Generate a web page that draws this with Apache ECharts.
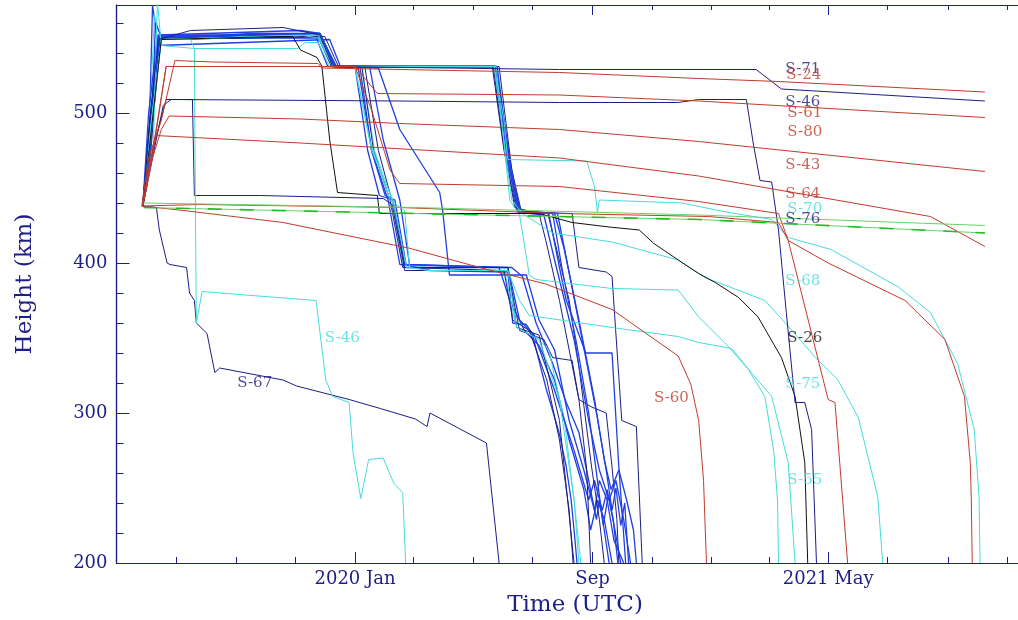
<!DOCTYPE html>
<html>
<head>
<meta charset="utf-8">
<script src="https://cdn.jsdelivr.net/npm/echarts@6/dist/echarts.min.js"></script>
<style>
  html, body { margin: 0; padding: 0; background: #ffffff; }
  #chart { width: 1018px; height: 620px; }
</style>
</head>
<body>
<div id="chart"></div>
<script>
// Starlink v0.9 (launched 2019 May 24) orbital height histories.
// Each track is [days after launch, height in km].
const LAUNCH_DATE = '2019-05-24';

const X_MIN = '2019-05-01';
const X_MAX = '2021-11-12';
const X_MINOR_TICKS = ['2019-05-01', '2019-07-01', '2019-09-01', '2019-11-01',
  '2020-01-01', '2020-03-01', '2020-05-01', '2020-07-01', '2020-09-01', '2020-11-01',
  '2021-01-01', '2021-03-01', '2021-05-01', '2021-07-01', '2021-09-01', '2021-11-01'];
const X_MAJOR_TICKS = ['2020-01-01', '2020-09-01', '2021-05-01'];
const X_TICK_LABELS = ['2020 Jan', 'Sep', '2021 May'];

const Y_MIN = 200;
const Y_MAX = 572;
const Y_MINOR_TICKS = [200, 220, 240, 260, 280, 300, 320, 340, 360, 380, 400, 420, 440, 460, 480, 500, 520, 540, 560];
const Y_MAJOR_TICKS = [200, 300, 400, 500];

// --- satellites still up at the end of the record, and other singles ---
const S24 = [[3,438],[10,470],[23,495],[37,535],[77,534],[184,533],[188,530],[432,527],[575,523],[657,521],[869,514]];
const S71 = [[4,438],[12,500],[20,549],[53,555],[148,557],[186,552],[199,531],[432,529],[634,529],[660,516],[869,508]];
const S46_NAVY = [[4,438],[14,470],[25,505],[33,509],[268,508],[432,507],[554,507],[575,509],[624,509],[631,480],[638,455],[650,454],[657,422],[665,367],[674,307],[684,307],[691,289],[696,200]];
const S61 = [[4,438],[16,480],[28,531],[222,531],[245,513],[432,512],[575,508],[869,497]];
const S80 = [[4,438],[14,470],[23,489],[31,498],[166,496],[268,493],[432,489],[575,481],[869,461]];
const S64 = [[4,438],[10,462],[17,485],[166,480],[432,470],[575,458],[813,431],[869,411]];
const S43 = [[4,438],[15,478],[28,531],[222,531],[239,502],[258,462],[268,453],[432,451],[575,441],[657,433],[667,415],[708,309],[715,307],[728,200]];
const S60 = [[3,438],[46,435],[148,427],[277,410],[350,397],[418,386],[486,369],[554,338],[567,319],[575,295],[580,255],[583,200]];
const S76 = [[3,438],[63,439],[268,437],[432,433],[585,431],[657,427],[667,415],[708,400],[787,375],[828,349],[848,311],[854,267],[855,243],[856,200]];
const GREEN_A = [[5,440],[284,437],[575,432],[869,425]];
const GREEN_B = [[5,437],[284,433],[575,429],[869,420]];

const S46_CYAN = [[4,438],[12,490],[23,549],[53,549],[57,543],[58,442],[59,360],[65,381],[103,379],[182,375],[192,322],[199,311],[216,307],[220,273],[228,243],[236,269],[251,270],[256,262],[262,253],[271,247],[274,200]];
const C2 = [[4,438],[15,480],[19,575],[23,545],[57,543],[163,543],[171,547],[184,547],[196,531],[222,531],[237,482],[258,442],[273,435],[278,397],[299,395],[379,395],[388,357],[411,349],[432,309],[447,242],[454,200]];
const S70 = [[4,438],[13,495],[23,549],[166,552],[184,550],[199,531],[365,531],[375,495],[379,469],[460,468],[468,451],[471,434],[473,442],[558,440],[603,434],[650,429],[667,417],[711,409],[780,384],[813,367],[841,333],[858,289],[863,244],[864,200]];
const S68 = [[4,438],[11,480],[23,549],[186,552],[199,531],[365,531],[383,442],[394,433],[425,420],[486,414],[554,402],[582,390],[595,387],[643,375],[664,360],[695,337],[718,322],[739,297],[759,244],[764,200]];
const S55 = [[4,438],[14,500],[23,549],[184,552],[199,531],[367,531],[381,442],[391,432],[401,392],[408,389],[486,383],[554,382],[575,364],[606,344],[626,329],[643,311],[652,275],[656,242],[657,200]];
const S75 = [[4,438],[12,485],[23,549],[184,552],[199,531],[222,531],[239,475],[261,442],[275,397],[299,395],[379,395],[391,375],[401,365],[486,357],[554,351],[575,347],[609,343],[629,327],[650,311],[667,267],[674,200]];
const S26 = [[4,438],[13,490],[23,549],[145,551],[158,551],[166,542],[183,537],[188,531],[196,482],[204,447],[245,445],[247,433],[411,433],[445,427],[483,424],[514,422],[529,413],[554,402],[575,393],[592,387],[616,377],[636,364],[660,337],[674,311],[684,267],[687,200]];
const S67 = [[3,438],[18,437],[21,422],[29,400],[32,399],[49,397],[52,380],[57,375],[59,360],[70,353],[78,327],[83,330],[148,322],[162,318],[216,309],[248,303],[284,296],[296,291],[299,300],[357,280],[370,200]];
const N5 = [[4,438],[16,480],[28,509],[55,509],[57,445],[125,445],[251,443],[260,439],[273,397],[299,397],[379,397],[388,357],[411,352],[432,295],[447,200]];

// --- deorbited 2020: lowered through 395 km ---
const A1 = [[4,438],[10,470],[14,572],[19,549],[115,553],[184,553],[199,531],[222,531],[235,475],[247,445],[261,442],[273,399],[299,395],[379,394],[384,360],[398,359],[404,353],[418,317],[432,286],[439,264],[444,242],[448,215],[450,200]];
const A2 = [[4,438],[11,490],[20,552],[166,555],[186,553],[202,531],[227,531],[239,475],[253,445],[263,442],[275,397],[299,397],[383,397],[394,391],[408,360],[425,333],[439,307],[452,287],[462,255],[470,229],[473,242],[478,222],[483,200]];
const A3 = [[4,438],[9,455],[14,500],[23,551],[186,551],[199,531],[232,531],[246,475],[261,439],[273,395],[379,395],[391,355],[416,349],[425,337],[445,335],[452,309],[465,304],[480,300],[486,264],[491,229],[493,200]];
const A4 = [[4,438],[9,470],[18,545],[196,549],[207,531],[246,530],[268,489],[309,447],[312,435],[319,392],[398,392],[411,362],[427,342],[442,295],[457,262],[468,235],[473,255],[481,242],[488,215],[498,200]];
const A5 = [[4,438],[12,500],[23,552],[181,552],[194,531],[237,531],[251,482],[268,442],[278,399],[370,397],[381,375],[396,355],[411,345],[427,322],[442,282],[457,249],[464,222],[471,242],[478,229],[486,200]];
const A6 = [[4,438],[10,480],[16,565],[23,549],[186,551],[199,531],[229,531],[242,475],[260,442],[271,399],[299,397],[375,397],[386,362],[401,355],[421,342],[437,295],[447,242],[452,200]];
const A7 = [[4,438],[13,505],[23,550],[184,551],[198,531],[225,531],[239,475],[256,442],[268,399],[379,397],[391,362],[406,352],[427,315],[447,275],[462,242],[468,255],[476,235],[481,249],[489,222],[495,200]];
const A8 = [[4,438],[8,450],[15,510],[23,549],[184,551],[199,531],[229,531],[241,475],[258,442],[271,397],[375,395],[384,362],[401,355],[419,322],[432,282],[442,235],[446,200]];

// --- deorbited 2020: held at 530 km until May ---
const B1 = [[4,438],[11,495],[23,550],[184,552],[199,531],[363,531],[375,475],[388,435],[420,433],[425,420],[442,375],[452,331],[465,264],[473,229],[478,200]];
const B2 = [[4,438],[9,470],[20,549],[186,553],[202,531],[367,531],[381,469],[391,435],[421,433],[432,397],[439,375],[459,340],[486,340],[493,264],[500,200]];
const B3 = [[4,438],[12,480],[23,551],[191,551],[205,531],[370,531],[383,462],[393,434],[445,433],[452,397],[480,394],[486,391],[496,295],[511,291],[517,200]];
const B4 = [[4,438],[10,500],[19,550],[188,550],[203,531],[365,531],[377,475],[389,434],[416,432],[427,402],[447,349],[462,295],[473,262],[483,242],[490,255],[498,229],[505,200]];
const B5 = [[4,438],[13,480],[21,549],[184,551],[198,531],[364,531],[374,482],[386,437],[411,433],[418,415],[432,375],[452,309],[460,262],[464,200]];
const B6 = [[4,438],[12,470],[17,560],[23,551],[186,553],[200,531],[366,531],[380,469],[390,435],[427,433],[437,409],[452,362],[468,309],[478,269],[485,249],[493,262],[501,242],[508,222],[511,200]];
const B7 = [[4,438],[11,475],[22,550],[185,552],[200,531],[368,531],[380,470],[392,434],[430,433],[440,400],[455,350],[470,300],[480,262],[486,235],[490,250],[495,225],[499,240],[503,200]];
const B8 = [[4,438],[10,465],[21,551],[187,552],[201,531],[366,531],[378,470],[390,435],[425,433],[435,395],[450,345],[462,300],[472,250],[477,225],[482,245],[487,230],[492,200]];

// Track labels: text, day after launch, height (km)
const LABEL_TEXT = ['S-71', 'S-24', 'S-46', 'S-61', 'S-80', 'S-43', 'S-64', 'S-70', 'S-76', 'S-68', 'S-26', 'S-75', 'S-55', 'S-46', 'S-67', 'S-60'];
const LABEL_DAY  = [664, 665, 664, 666, 666, 664, 664, 666, 664, 664, 666, 664, 666, 191, 101, 529];
const LABEL_KM   = [529, 525, 507, 500, 487, 465, 446, 436, 429, 388, 350, 319, 255, 350, 320, 310];
const LABEL_TONE = ['navy', 'red', 'navy', 'red', 'red', 'red', 'red', 'cyan', 'navy', 'cyan', 'black', 'cyan', 'cyan', 'cyan', 'navy', 'red'];

const COLORS = {
  navy: '#1d1d84',
  blue: '#1f3fe4',
  cyan: '#45dcdc',
  red: '#c23b2c',
  black: '#111111',
  green: '#66d466',
  greenDash: '#1fbf1f',
  axis: '#1e1e88'
};

const FONT = 'DejaVu Serif';
const DAY_MS = 86400000;
const toTime = s => Date.parse(s + 'T00:00:00Z');
const launchT = toTime(LAUNCH_DATE);
const toPoints = track => track.map(([d, h]) => [launchT + d * DAY_MS, h]);

// draw order: bundle first, singles afterwards
const TRACKS = [
  [A1, 'blue'], [A2, 'blue'], [A3, 'navy'], [A4, 'blue'], [A5, 'blue'], [A6, 'cyan'], [A7, 'blue'], [A8, 'navy'],
  [B1, 'navy'], [B2, 'blue'], [B3, 'navy'], [B4, 'blue'], [B5, 'navy'], [B6, 'blue'], [B7, 'blue'], [B8, 'blue'],
  [N5, 'navy'], [S67, 'navy'], [S46_CYAN, 'cyan'], [C2, 'cyan'],
  [S70, 'cyan'], [S68, 'cyan'], [S55, 'cyan'], [S75, 'cyan'], [S26, 'black'],
  [S71, 'navy'], [S46_NAVY, 'navy'],
  [S24, 'red'], [S61, 'red'], [S80, 'red'], [S64, 'red'], [S43, 'red'], [S60, 'red'], [S76, 'red'],
  [GREEN_A, 'green'], [GREEN_B, 'green']
];

const series = TRACKS.map(([track, tone]) => ({
  type: 'line',
  data: toPoints(track),
  showSymbol: false,
  symbol: 'none',
  silent: true,
  lineStyle: { color: COLORS[tone], width: tone === 'blue' ? 1.3 : 1 },
  z: 2
}));

// dashed overlay on the lower green track
series.push({
  type: 'line',
  data: toPoints(GREEN_B),
  showSymbol: false,
  symbol: 'none',
  silent: true,
  lineStyle: { color: COLORS.greenDash, width: 1.6, type: [14, 18] },
  z: 3
});

series.push({
  type: 'scatter',
  silent: true,
  symbolSize: 0,
  z: 5,
  data: LABEL_TEXT.map((t, i) => ({
    value: [launchT + LABEL_DAY[i] * DAY_MS, LABEL_KM[i]],
    label: {
      show: true,
      formatter: t,
      position: 'right',
      distance: 0,
      color: COLORS[LABEL_TONE[i]],
      fontFamily: FONT,
      fontSize: 15
    }
  }))
});

const xMinor = X_MINOR_TICKS.map(toTime);
const xMajor = X_MAJOR_TICKS.map(toTime);

// time runs along a value axis in epoch milliseconds so ticks can sit on month starts
const baseX = (position, tickLen, ticks, withLabels) => ({
  type: 'value',
  position: position,
  min: toTime(X_MIN),
  max: toTime(X_MAX),
  axisLine: { show: true, onZero: false, lineStyle: { color: COLORS.axis, width: 1.2 } },
  axisTick: { show: true, inside: true, length: tickLen, customValues: ticks, lineStyle: { color: COLORS.axis, width: 1 } },
  axisLabel: withLabels ? {
    show: true,
    customValues: xMajor,
    margin: 7,
    color: COLORS.axis,
    fontFamily: FONT,
    fontSize: 18,
    formatter: v => {
      const i = xMajor.indexOf(v);
      return i >= 0 ? X_TICK_LABELS[i] : '';
    }
  } : { show: false },
  splitLine: { show: false }
});

const baseY = (tickLen, ticks, withLabels) => ({
  type: 'value',
  position: 'left',
  min: Y_MIN,
  max: Y_MAX,
  axisLine: { show: true, onZero: false, lineStyle: { color: COLORS.axis, width: 1.2 } },
  axisTick: { show: true, inside: true, length: tickLen, customValues: ticks, lineStyle: { color: COLORS.axis, width: 1 } },
  axisLabel: withLabels ? {
    show: true,
    customValues: Y_MAJOR_TICKS,
    margin: 9,
    color: COLORS.axis,
    fontFamily: FONT,
    fontSize: 18
  } : { show: false },
  splitLine: { show: false }
});

const yMain = baseY(7, Y_MINOR_TICKS, false);
const yMajorAxis = Object.assign(baseY(13, Y_MAJOR_TICKS, true), {
  name: 'Height (km)',
  nameLocation: 'middle',
  nameRotate: 90,
  nameGap: 80,
  nameTextStyle: { color: COLORS.axis, fontFamily: FONT, fontSize: 23 }
});

const chart = echarts.init(document.getElementById('chart'), null, { renderer: 'canvas' });
chart.setOption({
  animation: false,
  backgroundColor: '#ffffff',
  grid: { left: 116.5, top: 5, width: 905, height: 558, containLabel: false },
  xAxis: [
    baseX('bottom', 6, xMinor, false),
    baseX('bottom', 11, xMajor, true),
    baseX('top', 5, xMinor, false),
    baseX('top', 10, xMajor, false)
  ],
  yAxis: [yMain, yMajorAxis],
  graphic: [{
    type: 'text',
    x: 575,
    y: 605,
    style: {
      text: 'Time (UTC)',
      fill: COLORS.axis,
      font: '23px "DejaVu Serif"',
      textAlign: 'center',
      textVerticalAlign: 'middle'
    }
  }],
  series: series
});
</script>
</body>
</html>
